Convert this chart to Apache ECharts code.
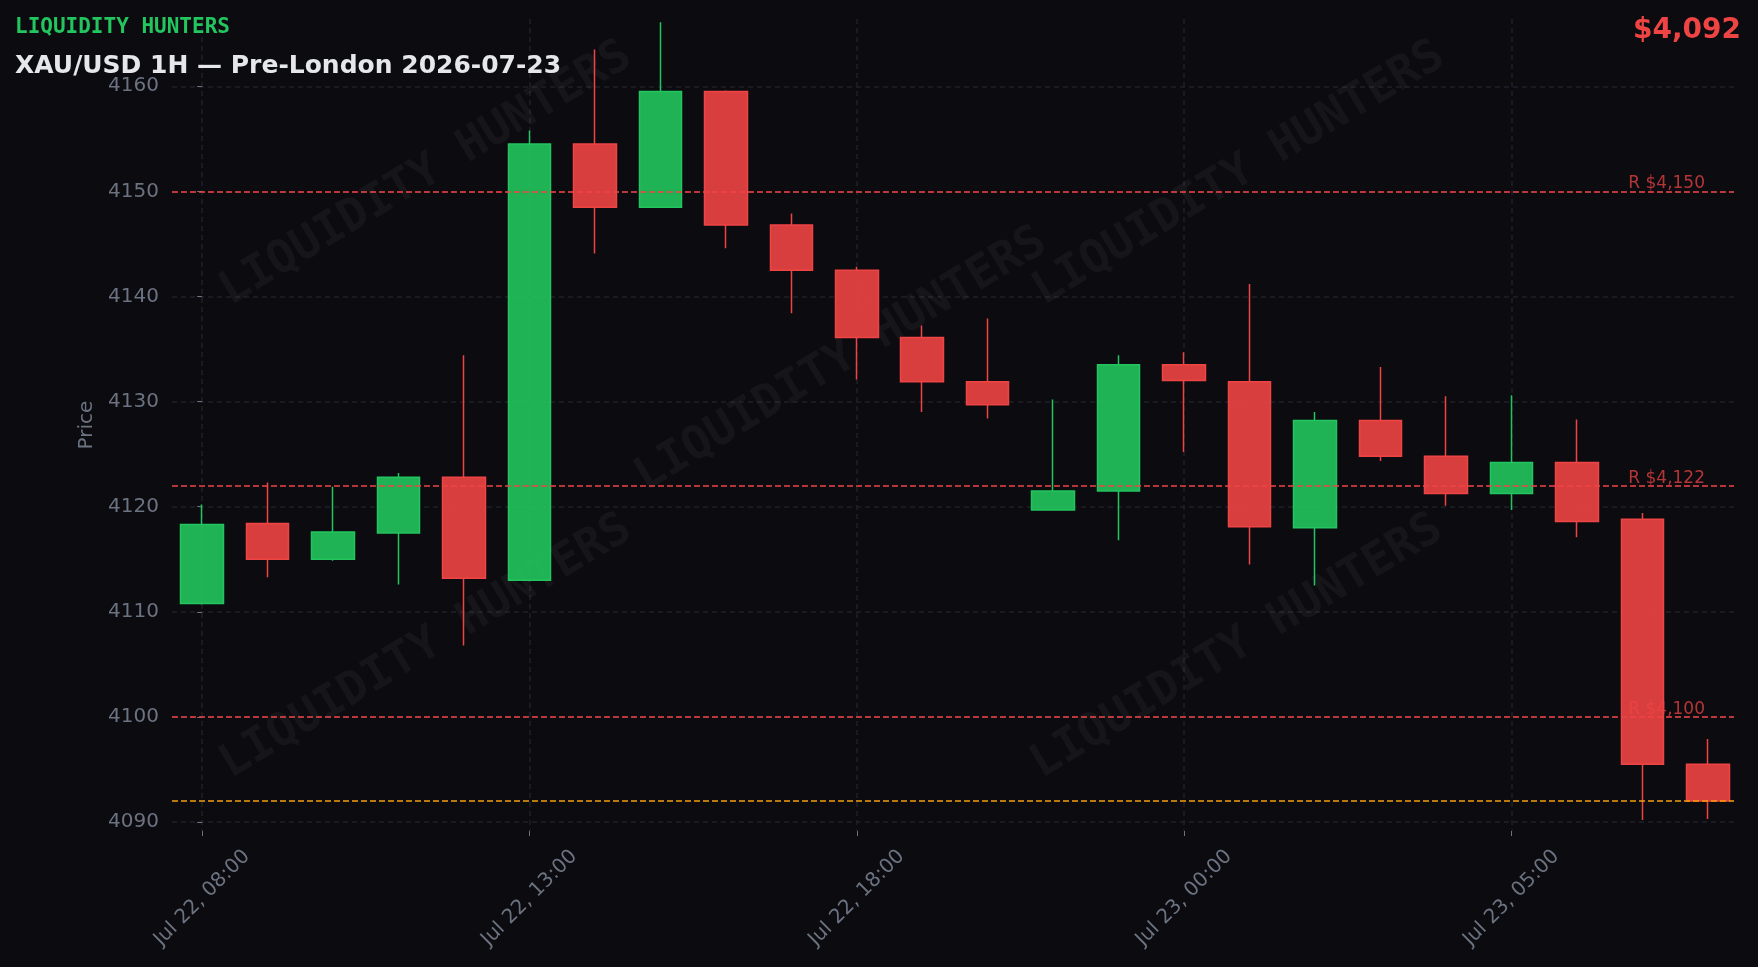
<!DOCTYPE html>
<html>

<head>
    <meta charset="utf-8">
    <script src="https://cdn.jsdelivr.net/npm/echarts@6/dist/echarts.min.js"></script>
    <style>
        html, body { margin: 0; padding: 0; background: #0b0b10; }
    </style>
</head>

<body>
    <div id="main" style="width: 1758px;height:967px;"></div>
    <script type="text/javascript">
        // hourly bars, one session hour missing before midnight
        var hours = [
            'Jul 22, 08:00', 'Jul 22, 09:00', 'Jul 22, 10:00', 'Jul 22, 11:00', 'Jul 22, 12:00',
            'Jul 22, 13:00', 'Jul 22, 14:00', 'Jul 22, 15:00', 'Jul 22, 16:00', 'Jul 22, 17:00',
            'Jul 22, 18:00', 'Jul 22, 19:00', 'Jul 22, 20:00', 'Jul 22, 21:00', 'Jul 22, 23:00',
            'Jul 23, 00:00', 'Jul 23, 01:00', 'Jul 23, 02:00', 'Jul 23, 03:00', 'Jul 23, 04:00',
            'Jul 23, 05:00', 'Jul 23, 06:00', 'Jul 23, 07:00', 'Jul 23, 08:00'
        ];
        var open  = [4110.8, 4118.4, 4115.0, 4117.5, 4122.8, 4113.0, 4154.5, 4148.5, 4159.5, 4146.8, 4142.5, 4136.1,
                     4131.9, 4119.7, 4121.5, 4133.5, 4131.9, 4118.0, 4128.2, 4124.8, 4121.25, 4124.2, 4118.8, 4095.5];
        var close = [4118.3, 4115.0, 4117.6, 4122.8, 4113.2, 4154.5, 4148.5, 4159.5, 4146.8, 4142.5, 4136.1, 4131.9,
                     4129.7, 4121.5, 4133.5, 4132.0, 4118.1, 4128.2, 4124.8, 4121.25, 4124.2, 4118.6, 4095.5, 4092.0];
        var low   = [4110.7, 4113.3, 4114.85, 4112.6, 4106.8, 4112.9, 4144.1, 4148.5, 4144.6, 4138.4, 4132.1, 4129.0,
                     4128.4, 4119.7, 4116.8, 4125.2, 4114.5, 4112.5, 4124.35, 4120.1, 4119.7, 4117.1, 4090.2, 4090.3];
        var high  = [4120.2, 4122.3, 4121.9, 4123.2, 4134.4, 4155.8, 4163.5, 4166.1, 4159.6, 4147.9, 4142.8, 4137.25,
                     4137.9, 4130.2, 4134.4, 4134.7, 4141.2, 4129.0, 4133.3, 4130.5, 4130.6, 4128.3, 4119.4, 4097.9];

        var resistance = [4150, 4122, 4100];
        var yTicks = [4090, 4100, 4110, 4120, 4130, 4140, 4150, 4160];
        var xTicks = [0, 5, 10, 15, 20];

        var lastPrice = close[close.length - 1];
        function money(v) {
            return '$' + Math.round(v).toLocaleString('en-US');
        }

        var candles = open.map(function (o, i) {
            return [i, o, close[i], low[i], high[i]];
        });

        var levelLines = resistance.map(function (v) {
            return {
                yAxis: v,
                label: { formatter: 'R ' + money(v) }
            };
        });
        levelLines.push({
            yAxis: lastPrice,
            label: { show: false },
            lineStyle: { color: '#f59e0b' }
        });

        var gridColor = '#1f2029';
        var textGrey = '#6b7280';

        var chartDom = document.getElementById('main');
        var myChart = echarts.init(chartDom);

        // faint diagonal brand marks
        var marks = [[426, 174], [841, 360], [1239, 174], [426, 647], [1237, 647]];
        var graphics = marks.map(function (p) {
            return {
                type: 'text',
                x: p[0],
                y: p[1],
                rotation: 31 * Math.PI / 180,
                z: 1,
                silent: true,
                style: {
                    text: 'LIQUIDITY HUNTERS',
                    font: 'bold 46px "DejaVu Sans Mono"',
                    fill: 'rgba(255,255,255,0.045)',
                    textAlign: 'center', align: 'center',
                    textVerticalAlign: 'middle', verticalAlign: 'middle'
                }
            };
        });
        graphics.push({
            type: 'text', x: 15, y: 27.5, z: 10,
            style: {
                text: 'LIQUIDITY HUNTERS', font: 'bold 21px "DejaVu Sans Mono"', fill: '#22c55e',
                textAlign: 'left', align: 'left', textVerticalAlign: 'middle', verticalAlign: 'middle'
            }
        });
        graphics.push({
            type: 'text', x: 15, y: 66, z: 10,
            style: {
                text: 'XAU/USD 1H \u2014 Pre-London 2026-07-23', font: 'bold 25px "DejaVu Sans"', fill: '#e5e7eb',
                textAlign: 'left', align: 'left', textVerticalAlign: 'middle', verticalAlign: 'middle'
            }
        });
        graphics.push({
            type: 'text', x: 1741, y: 31, z: 10,
            style: {
                text: money(lastPrice), font: 'bold 28px "DejaVu Sans"', fill: '#ef4444',
                textAlign: 'right', align: 'right', textVerticalAlign: 'middle', verticalAlign: 'middle'
            }
        });

        var option = {
            backgroundColor: '#0b0b10',
            animation: false,
            graphic: graphics,
            grid: {
                left: 172,
                right: 24,
                top: 19,
                bottom: 136,
                outerBoundsMode: 'none'
            },
            xAxis: {
                type: 'value',
                min: -0.46,
                max: 23.4,
                axisLine: { show: false },
                axisTick: {
                    show: true,
                    length: 5,
                    customValues: xTicks,
                    lineStyle: { color: textGrey }
                },
                axisLabel: {
                    customValues: xTicks,
                    rotate: 45,
                    align: 'center',
                    verticalAlign: 'middle',
                    margin: 67,
                    color: textGrey,
                    fontSize: 20,
                    fontFamily: 'DejaVu Sans',
                    formatter: function (v) {
                        return hours[Math.round(v)];
                    }
                },
                splitLine: {
                    show: true,
                    lineStyle: { color: gridColor, type: [5, 4], width: 1.5 }
                }
            },
            yAxis: {
                type: 'value',
                min: 4089.15,
                max: 4166.4,
                name: 'Price',
                nameLocation: 'middle',
                nameGap: 67,
                nameTextStyle: { color: textGrey, fontSize: 20, fontFamily: 'DejaVu Sans' },
                axisLine: { show: false },
                axisTick: {
                    show: true,
                    length: 5,
                    customValues: yTicks,
                    lineStyle: { color: textGrey }
                },
                axisLabel: {
                    customValues: yTicks,
                    margin: 13,
                    color: textGrey,
                    fontSize: 20,
                    fontFamily: 'DejaVu Sans',
                    formatter: function (v) {
                        return String(v);
                    }
                },
                splitLine: {
                    show: true,
                    lineStyle: { color: gridColor, type: [5, 4], width: 1.5 }
                }
            },
            series: [
                {
                    type: 'candlestick',
                    name: 'XAU/USD',
                    data: candles,
                    encode: { x: 0, y: [1, 2, 3, 4] },
                    barWidth: 43,
                    itemStyle: {
                        color: 'rgba(34,197,94,0.9)',
                        color0: 'rgba(239,68,68,0.9)',
                        borderColor: '#22c55e',
                        borderColor0: '#ef4444',
                        borderWidth: 1.5
                    },
                    markLine: {
                        silent: true,
                        symbol: 'none',
                        animation: false,
                        lineStyle: { color: '#ef4444', type: [6, 3], width: 1.5 },
                        label: {
                            show: true,
                            position: 'insideEndTop',
                            distance: [29, -1],
                            color: 'rgba(239,68,68,0.75)',
                            fontSize: 17,
                            fontFamily: 'DejaVu Sans'
                        },
                        emphasis: { disabled: true },
                        data: levelLines
                    }
                }
            ]
        };
        myChart.setOption(option);
    </script>
</body>

</html>
